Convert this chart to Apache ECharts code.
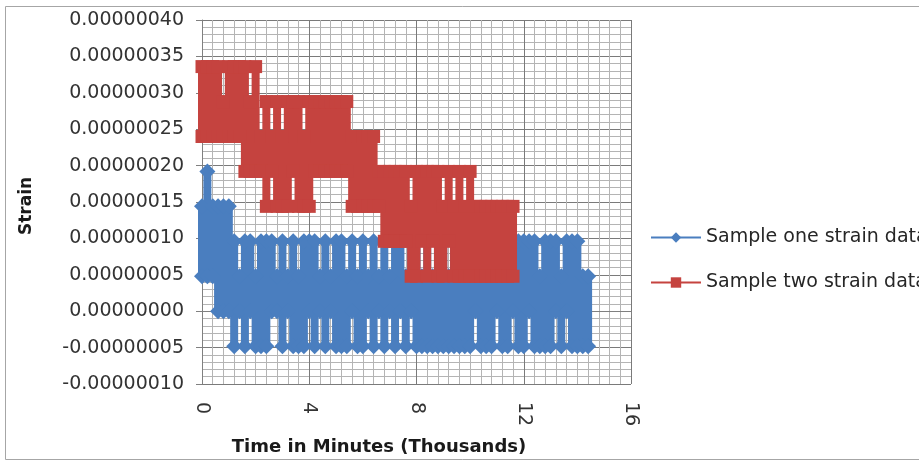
<!DOCTYPE html>
<html>
<head>
<meta charset="utf-8">
<script src="https://cdn.jsdelivr.net/npm/echarts@6/dist/echarts.min.js"></script>
<style>html,body{margin:0;padding:0;background:#fff}#chart{width:919px;height:464px}</style>
</head>
<body>
<div id="chart"></div>
<script>
// Strain values below are written in units of 1e-7, time in thousands of minutes.
const STRAIN_UNIT = 1e-7;

const seriesNames = ['Sample one strain data', 'Sample two strain data'];
const xTickLabels = [0, 4, 8, 12, 16];
const yTickLabels = [-1.0, -0.5, 0, 0.5, 1.0, 1.5, 2.0, 2.5, 3.0, 3.5, 4.0];

// Sample one: time windows and the highest / lowest reading within each window
const blueTime = [0,0.2,0.4,0.6,0.8,1,1.2,1.4,1.6,1.8,
  2,2.2,2.4,2.6,2.8,3,3.2,3.4,3.6,3.8,
  4,4.2,4.4,4.6,4.8,5,5.2,5.4,5.6,5.8,
  6,6.2,6.4,6.6,6.8,7,7.2,7.4,7.6,7.8,
  8,8.2,8.4,8.6,8.8,9,9.2,9.4,9.6,9.8,
  10,10.2,10.4,10.6,10.8,11,11.2,11.4,11.6,11.8,
  12,12.2,12.4,12.6,12.8,13,13.2,13.4,13.6,13.8,
  14,14.2,14.4];
const blueHigh = [1.44,1.92,1.44,1.44,1.44,1.44,0.96,0.48,0.96,0.96,
  0.48,0.96,0.96,0.96,0.48,0.96,0.48,0.96,0.48,0.96,
  0.96,0.96,0.48,0.96,0.48,0.96,0.96,0.48,0.96,0.48,
  0.96,0.48,0.96,0.48,0.96,0.48,0.96,0.96,0.48,0.96,
  0.96,0.48,0.96,0.48,0.96,0.96,0.48,0.96,0.96,0.96,
  0.96,0.96,0.96,0.96,0.96,0.96,0.96,0.96,0.96,0.96,
  0.96,0.96,0.96,0.48,0.96,0.96,0.96,0.48,0.96,0.96,
  0.96,0.48,0.48];
const blueLow = [0.48,0.48,0.48,0,0,0,-0.48,0,-0.48,0,
  -0.48,-0.48,-0.48,0,0,-0.48,0,-0.48,-0.48,-0.48,
  0,-0.48,0,-0.48,0,-0.48,-0.48,-0.48,0,-0.48,
  -0.48,0,-0.48,0,-0.48,0,-0.48,0,-0.48,0,
  -0.48,-0.48,-0.48,-0.48,-0.48,-0.48,-0.48,-0.48,-0.48,-0.48,
  -0.48,0,-0.48,-0.48,-0.48,0,-0.48,-0.48,0,-0.48,
  -0.48,0,-0.48,-0.48,-0.48,-0.48,0,-0.48,0,-0.48,
  -0.48,-0.48,-0.48];

// Sample two
const redTime = [0,0.2,0.4,0.6,0.8,1,1.2,1.4,1.6,1.8,
  2,2.2,2.4,2.6,2.8,3,3.2,3.4,3.6,3.8,
  4,4.2,4.4,4.6,4.8,5,5.2,5.4,5.6,5.8,
  6,6.2,6.4,6.6,6.8,7,7.2,7.4,7.6,7.8,
  8,8.2,8.4,8.6,8.8,9,9.2,9.4,9.6,9.8,
  10,10.2,10.4,10.6,10.8,11,11.2,11.4,11.6];
const redHigh = [3.36,3.36,3.36,3.36,2.88,3.36,3.36,3.36,3.36,2.88,
  3.36,2.40,2.88,2.40,2.88,2.40,2.88,2.88,2.88,2.40,
  2.88,2.88,2.88,2.88,2.88,2.88,2.88,2.88,2.40,2.40,
  2.40,2.40,2.40,1.92,1.92,1.92,1.92,1.92,1.92,1.44,
  1.92,1.92,1.92,1.92,1.92,1.44,1.92,1.44,1.92,1.44,
  1.92,1.44,1.44,1.44,1.44,1.44,1.44,1.44,1.44];
const redLow = [2.40,2.40,2.40,2.40,2.40,2.40,2.40,2.40,1.92,1.92,
  1.92,1.92,1.44,1.92,1.44,1.44,1.44,1.92,1.44,1.44,
  1.44,1.92,1.92,1.92,1.92,1.92,1.92,1.92,1.44,1.44,
  1.44,1.44,1.44,1.44,0.96,0.96,0.96,0.96,0.96,0.48,
  0.48,0.96,0.48,0.96,0.48,0.48,0.96,0.48,0.48,0.48,
  0.48,0.48,0.48,0.48,0.48,0.48,0.48,0.48,0.48];

function buildSpans(time, high, low) {
  const out = [];
  for (let i = 0; i < time.length; i++) {
    out.push([time[i], high[i] * STRAIN_UNIT]);
    out.push([time[i], low[i] * STRAIN_UNIT]);
    out.push([time[i], '-']);
  }
  return out;
}

const BLUE = '#4a7ebf';
const RED = '#c5433f';
const FONT = '"DejaVu Sans", sans-serif';

const chart = echarts.init(document.getElementById('chart'), null, {renderer: 'canvas'});
chart.setOption({
  animation: false,
  backgroundColor: '#ffffff',
  grid: {left: 202, right: 288, top: 20, bottom: 80, containLabel: false},
  legend: {
    orient: 'vertical',
    left: 645,
    top: 223,
    itemWidth: 50,
    itemHeight: 13,
    itemGap: 26,
    data: seriesNames,
    lineStyle: {width: 2},
    textStyle: {fontFamily: FONT, fontSize: 19, color: '#262626'}
  },
  xAxis: {
    type: 'value',
    min: xTickLabels[0],
    max: xTickLabels[xTickLabels.length - 1],
    interval: 4,
    axisLine: {show: true, lineStyle: {color: '#808080', width: 1}},
    axisTick: {show: true, length: 5, lineStyle: {color: '#808080'}},
    minorTick: {show: false, splitNumber: 10},
    splitLine: {show: true, lineStyle: {color: '#7a7a7a', width: 1}},
    minorSplitLine: {show: true, lineStyle: {color: '#b4b4b4', width: 1}},
    axisLabel: {rotate: -90, margin: 18, fontFamily: FONT, fontSize: 19, color: '#333333'}
  },
  yAxis: {
    type: 'value',
    min: yTickLabels[0] * STRAIN_UNIT,
    max: yTickLabels[yTickLabels.length - 1] * STRAIN_UNIT,
    interval: 0.5 * STRAIN_UNIT,
    axisLine: {show: true, lineStyle: {color: '#808080', width: 1}},
    axisTick: {show: true, length: 6, lineStyle: {color: '#808080'}},
    minorTick: {show: false, splitNumber: 5},
    splitLine: {show: true, lineStyle: {color: '#7a7a7a', width: 1}},
    minorSplitLine: {show: true, lineStyle: {color: '#b4b4b4', width: 1}},
    axisLabel: {
      margin: 18, fontFamily: FONT, fontSize: 19, color: '#333333',
      formatter: function (v) { return Math.abs(v) < 1e-15 ? '0.00000000' : v.toFixed(8); }
    }
  },
  graphic: [
    {type: 'rect', z: -10, shape: {x: 5.5, y: 6.5, width: 1000, height: 453},
      style: {fill: 'none', stroke: '#a6a6a6', lineWidth: 1}},
    {type: 'text', x: 27, y: 206, rotation: Math.PI / 2,
      style: {text: 'Strain', font: 'bold 17px ' + FONT, fill: '#1a1a1a', align: 'center', verticalAlign: 'middle'}},
    {type: 'text', x: 379, y: 447,
      style: {text: 'Time in Minutes (Thousands)', font: 'bold 18px ' + FONT, fill: '#1a1a1a', align: 'center', verticalAlign: 'middle'}}
  ],
  series: [
    {
      name: seriesNames[0], type: 'line', z: 2,
      data: buildSpans(blueTime, blueHigh, blueLow),
      connectNulls: false,
      symbol: 'diamond', symbolSize: 16,
      itemStyle: {color: BLUE},
      lineStyle: {color: BLUE, width: 8},
      emphasis: {disabled: true}
    },
    {
      name: seriesNames[1], type: 'line', z: 3,
      data: buildSpans(redTime, redHigh, redLow),
      connectNulls: false,
      symbol: 'rect', symbolSize: 13,
      itemStyle: {color: RED},
      lineStyle: {color: RED, width: 8},
      emphasis: {disabled: true}
    }
  ]
});
</script>
</body>
</html>
